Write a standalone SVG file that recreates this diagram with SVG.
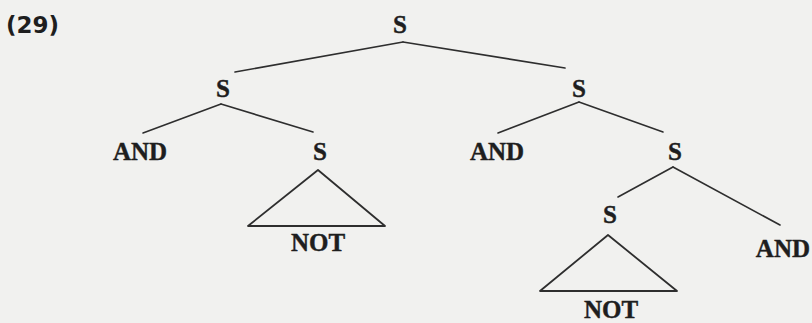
<svg xmlns="http://www.w3.org/2000/svg" width="812" height="323" viewBox="0 0 812 323">
<style>
.t{font-family:"Liberation Serif","DejaVu Serif",serif;font-weight:bold;font-size:25px;fill:#1e1e1e;stroke:#1e1e1e;stroke-width:0.4;text-anchor:middle}
.n{font-family:"DejaVu Sans","Liberation Sans",sans-serif;font-weight:bold;font-size:23px;fill:#1e1e1e}
.e{stroke:#2e2e2e;stroke-width:1.6;fill:none;stroke-linecap:round}
.tri{stroke:#2e2e2e;stroke-width:1.8;fill:none;stroke-linejoin:round}
</style>
<rect width="812" height="323" fill="#f1f1ef"/>
<text class="n" x="6" y="33">(29)</text>
<g id="connectors">
<line class="e" x1="403" y1="42" x2="235" y2="72"/>
<line class="e" x1="403" y1="42" x2="565" y2="68"/>
<line class="e" x1="221" y1="104" x2="143" y2="133"/>
<line class="e" x1="221" y1="104" x2="313" y2="132"/>
<line class="e" x1="579" y1="102" x2="498" y2="133"/>
<line class="e" x1="579" y1="102" x2="663" y2="132"/>
<line class="e" x1="673" y1="167" x2="618" y2="197"/>
<line class="e" x1="673" y1="167" x2="780" y2="225"/>
</g>
<g id="s-root"><text class="t" x="400" y="33">S</text></g>
<g id="s-left"><text class="t" x="223" y="97">S</text></g>
<g id="s-right"><text class="t" x="579" y="97">S</text></g>
<g id="and-1"><text class="t" x="140" y="160">AND</text></g>
<g id="s-left-2"><text class="t" x="320" y="160">S</text></g>
<g id="and-2"><text class="t" x="497" y="160">AND</text></g>
<g id="s-right-2"><text class="t" x="675" y="160">S</text></g>
<g id="tri-1">
<polygon class="tri" points="318,170 248,226 385,226"/>
<text class="t" x="318" y="251">NOT</text>
</g>
<g id="s-right-3"><text class="t" x="610" y="223">S</text></g>
<g id="and-3"><text class="t" x="810" y="257" style="text-anchor:end">AND</text></g>
<g id="tri-2">
<polygon class="tri" points="608,235 540,291 677,291"/>
<text class="t" x="611" y="318">NOT</text>
</g>
</svg>
